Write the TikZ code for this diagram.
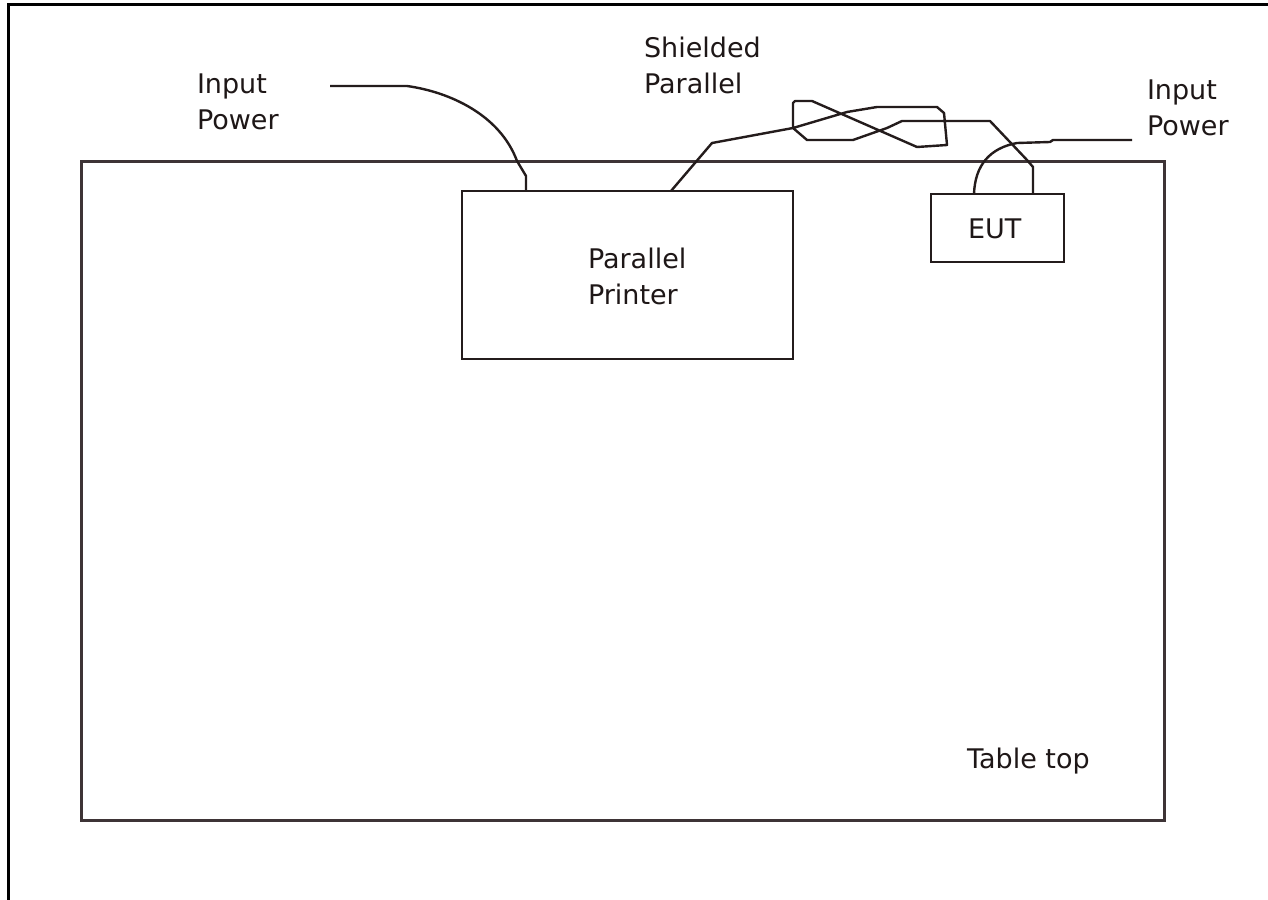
\documentclass[tikz,border=0pt]{standalone}
\usepackage{fontspec}
\setmainfont{DejaVu Sans}
\usetikzlibrary{calc}
\definecolor{ink}{HTML}{241C1C}
\definecolor{tablecol}{HTML}{3E3436}
\definecolor{txt}{HTML}{1E1717}
\begin{document}
\begin{tikzpicture}[x=0.5pt,y=-0.5pt,
  box/.style={draw=ink, line width=1.2pt, inner sep=0pt, outer sep=0pt, anchor=north west},
  tablebox/.style={draw=tablecol, line width=1.5pt, inner sep=0pt, outer sep=0pt, anchor=north west},
  cable/.style={draw=ink, line width=1.2pt, line join=round},
  lbl/.style={text=txt, inner sep=0pt, outer sep=0pt, align=left, anchor=north west,
    font=\fontsize{13.5pt}{18pt}\selectfont},
  slbl/.style={text=txt, inner sep=0pt, outer sep=0pt, anchor=base west,
    font=\fontsize{13.5pt}{18pt}\selectfont}]
\useasboundingbox (0,0) rectangle (1268,899);
\fill[white] (0,0) rectangle (1268,899);
% outer frame
\draw[black, line width=1.5pt] (8,905) -- (8,5) -- (1275,5);
% boxes
\node[tablebox, minimum width=541.5pt, minimum height=329.5pt] (table) at (81,161) {};
\node[box, minimum width=165.5pt, minimum height=84pt] (printer) at (462,191) {};
\node[box, minimum width=66.5pt, minimum height=34pt] (eut) at (931,194) {};
% labels
\node[lbl] (lpowlbl) at (197,74) {Input\\Power};
\node[lbl] (shlbl) at (644,37) {Shielded\\Parallel};
\node[lbl] (rpowlbl) at (1147,80) {Input\\Power};
\node[lbl] (prtlbl) at (588,248) {Parallel\\Printer};
\node[slbl] (eutlbl) at (968,238) {EUT};
\node[slbl] (tbllbl) at (967,768) {Table top};
% free cable ends
\coordinate (lpow) at (330,86);
\coordinate (rpow) at (1132,140);
% left input power
\draw[cable] (lpow) -- (407,86) .. controls (450,92) and (500,115) .. (517,161)
  -- (526,176) -- ([xshift=32pt]printer.north west);
% shielded parallel cable
\draw[cable] ([xshift=104.5pt]printer.north west) -- (712,143) -- (793,128)
  -- (847,112) -- (877,107) -- (937,107) -- (944,113) -- (947,145) -- (917,147)
  -- (812,101) -- (795,101) -- (793,103) -- (793,128) -- (807,140) -- (853,140)
  -- (887,128) -- (902,121) -- (990,121) -- (1027,160) -- (1033,167)
  -- ([xshift=51pt]eut.north west);
% right input power
\draw[cable] (rpow) -- (1053,140) -- (1050,142) -- (1017,143)
  .. controls (990,148) and (975,165) .. ([xshift=21.5pt]eut.north west);
\end{tikzpicture}
\end{document}
